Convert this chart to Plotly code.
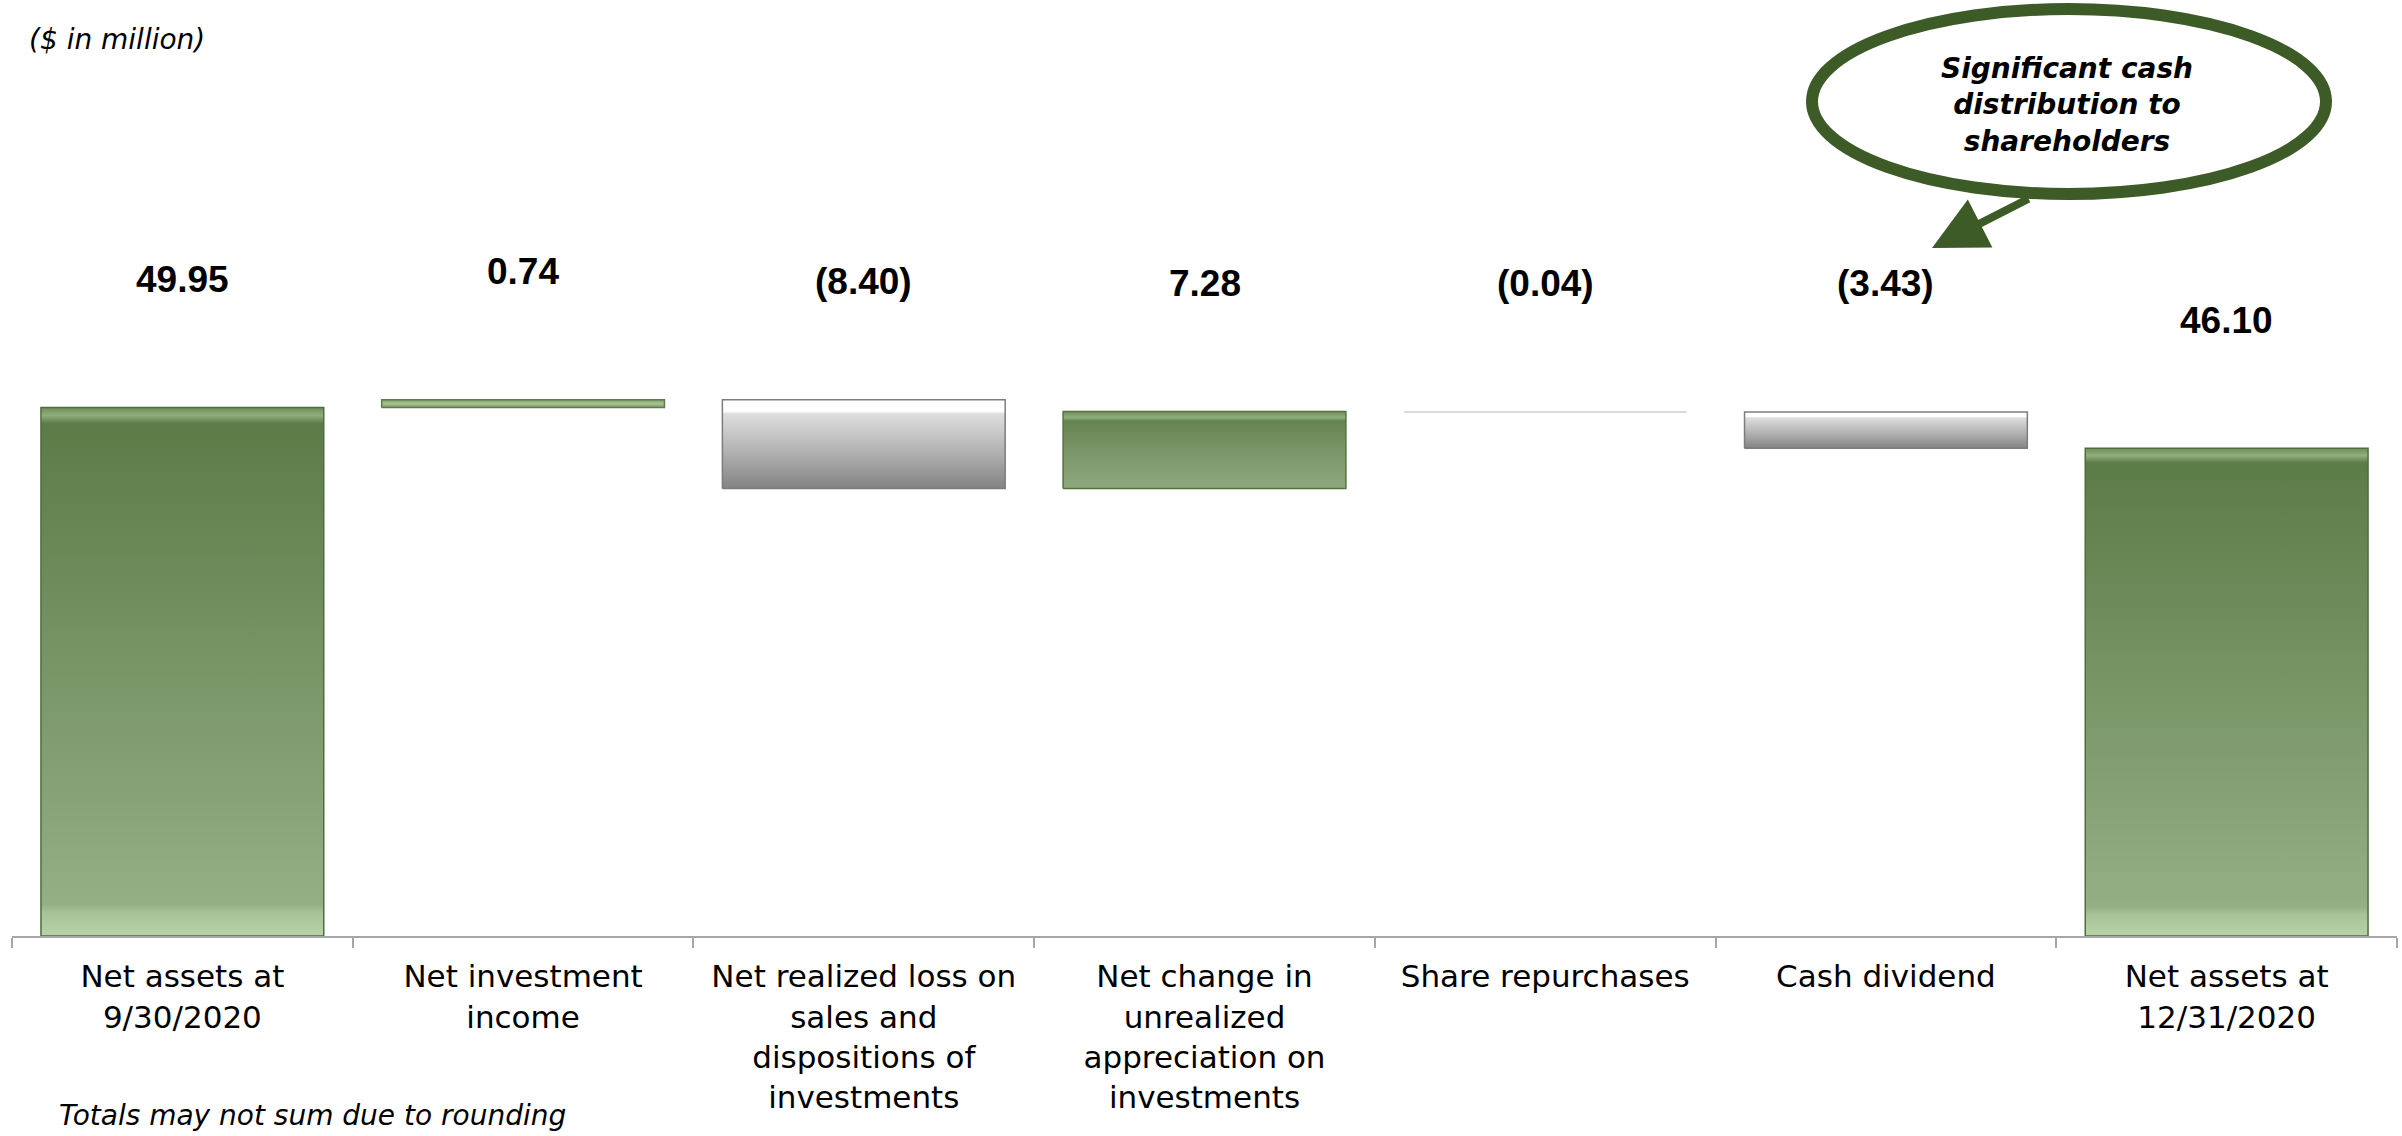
import plotly.graph_objects as go

# ---------------- data ----------------
categories = [
    "Net assets at<br>9/30/2020",
    "Net investment<br>income",
    "Net realized loss on<br>sales and<br>dispositions of<br>investments",
    "Net change in<br>unrealized<br>appreciation on<br>investments",
    "Share repurchases",
    "Cash dividend",
    "Net assets at<br>12/31/2020",
]
values = [49.95, 0.74, -8.40, 7.28, -0.04, -3.43, 46.10]
kinds = ["total", "delta", "delta", "delta", "delta", "delta", "total"]

unit_label = "($ in million)"
footnote = "Totals may not sum due to rounding"
callout_text = "Significant cash<br>distribution to<br>shareholders"

# ---------------- layout geometry ----------------
W, H = 2402, 1136
L, R, T, B = 12, 2397, 0, 936
Y_MAX = 88.47
BAR_HALF = 0.415


def px(x):
    return (x - L) / (R - L)


def py(y):
    return (B - y) / (B - T)


# ---------------- compute waterfall ----------------
bases, tops = [], []
running = 0.0
for v, k in zip(values, kinds):
    if k == "total":
        lo, hi = 0.0, v
        running = v
    else:
        start = running
        running = running + v
        lo, hi = min(start, running), max(start, running)
    bases.append(lo)
    tops.append(hi)

green_total = [[0.0, "#b8d3a8"], [0.045, "#a6c296"], [0.06, "#94af84"],
               [0.97, "#5b7b47"], [0.985, "#8fae7c"], [1.0, "#6f8e5b"]]
green_up = [[0.0, "#8fa97e"], [0.5, "#7a9567"], [0.88, "#66834f"],
            [0.92, "#8fb07a"], [1.0, "#6f8d5a"]]
green_small = [[0.0, "#7f9c6b"], [0.5, "#a6c391"], [1.0, "#7f9c6b"]]
gray_down = [[0.0, "#838383"], [0.4, "#b0b0b0"], [0.84, "#dedede"],
             [0.87, "#ffffff"], [1.0, "#ffffff"]]

fig = go.Figure()
for i, (v, k, lo, hi) in enumerate(zip(values, kinds, bases, tops)):
    if k == "total":
        cs, edge = green_total, "#4f6e3b"
    elif v > 0 and (hi - lo) > 2:
        cs, edge = green_up, "#55733f"
    elif v > 0:
        cs, edge = green_small, "#5d7b48"
    elif (hi - lo) < 0.5:
        cs, edge = [[0, "#d0d0d0"], [1, "#d0d0d0"]], "#cfcfcf"
    else:
        cs, edge = gray_down, "#7d7d7d"
    xs = [i - BAR_HALF, i + BAR_HALF, i + BAR_HALF, i - BAR_HALF, i - BAR_HALF]
    ys = [lo, lo, hi, hi, lo]
    fig.add_trace(go.Scatter(
        x=xs, y=ys, mode="lines", fill="toself",
        fillgradient=dict(type="vertical", colorscale=cs),
        line=dict(color=edge, width=1.5),
        hoverinfo="skip", showlegend=False,
    ))


def fmt(v, k):
    if k == "total" or v >= 0:
        return f"{v:.2f}"
    return f"({abs(v):.2f})"


for i, (v, k, hi) in enumerate(zip(values, kinds, tops)):
    fig.add_annotation(
        x=i, y=hi, xref="x", yref="y", text=f"<b>{fmt(v, k)}</b>",
        showarrow=False, yanchor="middle", yshift=(118 if (k == "delta" and v < -5) else 128),
        font=dict(family="Liberation Sans, Arial, sans-serif", size=37, color="#000000"),
    )

# unit label
fig.add_annotation(
    x=px(27), y=py(40), xref="paper", yref="paper", xanchor="left", yanchor="middle",
    text=f"<i>{unit_label}</i>", showarrow=False,
    font=dict(family="DejaVu Sans, sans-serif", size=28, color="#000000"),
)
# footnote
fig.add_annotation(
    x=px(57), y=py(1115), xref="paper", yref="paper", xanchor="left", yanchor="middle",
    text=f"<i>{footnote}</i>", showarrow=False,
    font=dict(family="DejaVu Sans, sans-serif", size=28, color="#000000"),
)

# callout ellipse
CALLOUT = "#3d5b27"
fig.add_shape(
    type="circle", xref="paper", yref="paper",
    x0=px(1812), x1=px(2326), y0=py(194), y1=py(9),
    line=dict(color=CALLOUT, width=12), fillcolor="rgba(255,255,255,0)",
)
fig.add_annotation(
    x=px(2067), y=py(105), xref="paper", yref="paper",
    text=f"<b><i>{callout_text}</i></b>", showarrow=False,
    font=dict(family="DejaVu Sans, sans-serif", size=28, color="#000000"),
    xanchor="center", yanchor="middle",
)
# callout arrow
fig.add_annotation(
    x=px(1932), y=py(248), xref="paper", yref="paper",
    ax=98, ay=-50, text="", showarrow=True,
    arrowhead=2, arrowsize=1.35, arrowwidth=8, arrowcolor=CALLOUT,
)

fig.update_layout(
    width=W, height=H,
    margin=dict(l=L, r=W - R, t=T, b=H - B),
    paper_bgcolor="#ffffff", plot_bgcolor="#ffffff",
    showlegend=False,
    xaxis=dict(
        range=[-0.5, 6.5], tickmode="array",
        tickvals=list(range(len(categories))), ticktext=categories,
        ticks="", showgrid=False, zeroline=False,
        showline=True, linecolor="#a6a6a6", linewidth=2,
        tickfont=dict(family="DejaVu Sans, sans-serif", size=31, color="#000000"),
        ticklabelstandoff=12,
        minor=dict(tickmode="array",
                   tickvals=[i - 0.5 for i in range(len(categories) + 1)],
                   ticks="outside", ticklen=10, tickwidth=2, tickcolor="#a6a6a6",
                   showgrid=False),
        fixedrange=True,
    ),
    yaxis=dict(range=[0, Y_MAX], visible=False, fixedrange=True),
)

fig.write_html("out.html")
